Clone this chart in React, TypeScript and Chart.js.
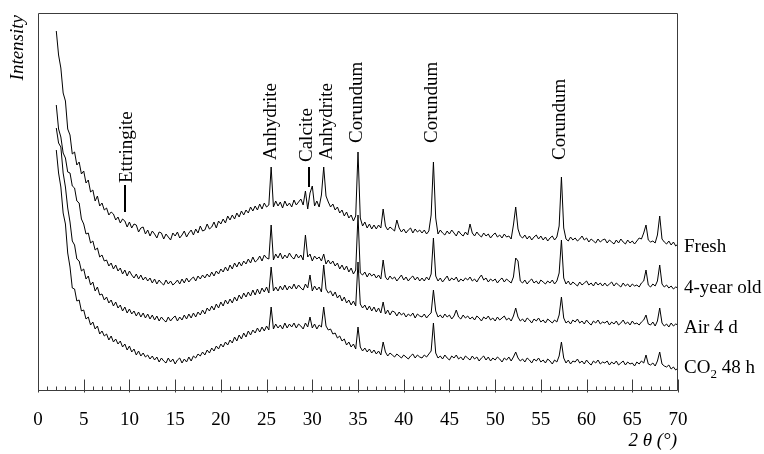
import React, { useEffect, useRef } from 'react';
import { Chart, registerables } from 'chart.js';

Chart.register(...registerables);

// 2θ sampling grid (degrees), 0.25° step from 2° to 70°
const twoTheta: number[] = Array.from({ length: 273 }, (_, i) => 2 + i * 0.25);

// Intensities (arbitrary units, curves already offset vertically as in the figure)
const fresh = [
  360, 336, 323, 298, 290, 262, 256, 237, 239, 226, 229, 217, 220, 208, 211, 199, 201, 190, 195, 185,
  188, 181, 183, 176, 179, 177, 171, 174, 168, 172, 170, 164, 169, 163, 167, 166, 159, 163, 164, 157,
  161, 155, 160, 157, 153, 159, 158, 152, 157, 154, 151, 158, 155, 159, 153, 156, 160, 154, 158, 161,
  156, 162, 158, 165, 160, 161, 167, 162, 164, 169, 163, 170, 167, 172, 168, 175, 171, 176, 172, 178,
  174, 180, 176, 181, 178, 184, 180, 185, 181, 187, 182, 188, 184, 186, 224, 184, 190, 185, 189, 183,
  190, 185, 188, 184, 191, 186, 189, 192, 186, 200, 182, 198, 205, 185, 190, 184, 196, 224, 195, 189,
  184, 187, 181, 184, 178, 181, 175, 179, 173, 176, 170, 175, 239, 173, 165, 169, 163, 167, 162, 166,
  162, 166, 163, 182, 165, 161, 164, 162, 160, 171, 163, 159, 162, 158, 161, 163, 158, 162, 159, 161,
  158, 161, 157, 160, 176, 229, 173, 157, 161, 158, 156, 160, 157, 161, 158, 155, 160, 157, 155, 159,
  156, 167, 158, 155, 159, 156, 154, 158, 155, 157, 153, 156, 158, 154, 156, 153, 157, 154, 155, 152,
  166, 184, 162, 155, 153, 156, 152, 155, 151, 154, 156, 152, 155, 151, 154, 150, 153, 155, 151, 154,
  165, 214, 163, 152, 150, 154, 151, 153, 150, 152, 155, 151, 153, 149, 152, 150, 148, 152, 149, 151,
  152, 148, 151, 149, 147, 151, 148, 152, 149, 147, 151, 148, 150, 147, 150, 153, 152, 158, 166, 151,
  149, 150, 148, 156, 175, 152, 149, 147, 150, 146, 149, 145, 147,
];

const fourYear = [
  286, 262, 254, 238, 233, 219, 218, 205, 203, 190, 188, 172, 167, 157, 158, 148, 150, 141, 143, 134,
  136, 130, 131, 125, 128, 122, 126, 120, 123, 117, 121, 115, 120, 116, 113, 117, 112, 116, 111, 114,
  110, 113, 108, 112, 107, 111, 108, 106, 111, 107, 110, 106, 108, 111, 107, 112, 108, 113, 109, 112,
  114, 110, 115, 112, 116, 113, 117, 114, 119, 115, 120, 117, 122, 119, 124, 120, 126, 122, 128, 124,
  129, 125, 130, 127, 132, 128, 134, 129, 131, 135, 130, 136, 133, 132, 166, 131, 137, 133, 138, 132,
  136, 133, 138, 134, 132, 137, 133, 136, 131, 156, 134, 137, 130, 135, 132, 134, 130, 137, 127, 131,
  127, 130, 125, 128, 122, 126, 121, 125, 119, 123, 117, 121, 176, 118, 116, 119, 114, 118, 115, 117,
  113, 116, 112, 131, 114, 111, 115, 112, 114, 110, 113, 116, 111, 114, 110, 113, 115, 111, 114, 110,
  113, 110, 114, 111, 117, 153, 115, 110, 113, 109, 112, 115, 110, 113, 111, 114, 109, 112, 110, 113,
  111, 114, 110, 112, 109, 113, 116, 111, 113, 109, 112, 110, 112, 108, 111, 113, 109, 112, 110, 108,
  114, 133, 130, 110, 108, 111, 107, 110, 112, 108, 110, 107, 111, 109, 107, 110, 108, 111, 107, 110,
  118, 151, 113, 107, 110, 106, 109, 107, 105, 109, 106, 108, 110, 106, 108, 105, 109, 106, 108, 105,
  108, 105, 107, 109, 105, 108, 106, 104, 108, 105, 107, 104, 107, 105, 106, 104, 108, 110, 121, 106,
  104, 107, 105, 110, 126, 107, 104, 106, 103, 105, 102, 104, 103,
];

const air4d = [
  263, 248, 244, 218, 204, 183, 169, 150, 146, 132, 130, 120, 122, 112, 115, 106, 109, 100, 104, 96,
  97, 91, 94, 88, 91, 85, 89, 83, 86, 80, 84, 78, 82, 77, 80, 75, 79, 74, 78, 73,
  77, 72, 76, 71, 75, 70, 74, 71, 69, 74, 70, 73, 75, 70, 74, 71, 76, 72, 77, 73,
  78, 74, 79, 76, 81, 77, 83, 80, 85, 81, 87, 83, 89, 85, 91, 87, 92, 88, 94, 90,
  96, 92, 98, 94, 99, 95, 101, 96, 102, 97, 103, 99, 104, 98, 124, 100, 104, 100, 105, 101,
  106, 101, 105, 102, 107, 102, 106, 103, 101, 107, 103, 116, 100, 105, 101, 104, 99, 126, 102, 98,
  100, 95, 99, 93, 96, 90, 94, 88, 91, 86, 90, 85, 129, 87, 83, 86, 81, 85, 80, 84,
  79, 83, 78, 89, 77, 81, 76, 80, 79, 75, 79, 76, 78, 74, 77, 75, 78, 73, 77, 75,
  74, 77, 73, 76, 78, 101, 80, 74, 76, 73, 77, 74, 76, 72, 75, 81, 74, 72, 76, 73,
  75, 72, 74, 71, 75, 73, 70, 74, 72, 75, 71, 73, 70, 74, 71, 73, 75, 71, 73, 70,
  75, 83, 74, 70, 72, 69, 73, 71, 68, 72, 70, 73, 69, 71, 68, 72, 70, 68, 71, 69,
  76, 94, 73, 68, 70, 67, 71, 69, 72, 68, 70, 67, 71, 68, 66, 70, 68, 71, 67, 69,
  68, 70, 66, 69, 67, 70, 66, 68, 71, 67, 69, 66, 70, 67, 68, 66, 69, 71, 76, 67,
  66, 69, 65, 70, 83, 68, 65, 67, 64, 68, 65, 67, 66,
];

const co2 = [
  241, 218, 204, 178, 167, 138, 124, 103, 102, 90, 91, 80, 81, 72, 74, 66, 69, 62, 65, 57,
  60, 55, 57, 51, 55, 49, 52, 47, 50, 44, 47, 41, 45, 39, 42, 36, 40, 35, 38, 34,
  36, 32, 35, 31, 34, 29, 33, 30, 28, 33, 29, 32, 27, 31, 33, 28, 32, 29, 34, 30,
  35, 33, 37, 35, 39, 36, 41, 38, 43, 40, 45, 42, 47, 44, 49, 46, 51, 48, 54, 50,
  56, 52, 58, 54, 60, 56, 61, 58, 63, 59, 64, 60, 65, 61, 84, 62, 67, 63, 66, 62,
  68, 63, 67, 64, 68, 63, 67, 65, 62, 68, 64, 74, 63, 67, 62, 66, 64, 84, 65, 61,
  62, 57, 58, 53, 55, 50, 52, 46, 49, 44, 47, 42, 64, 44, 40, 43, 39, 42, 38, 41,
  37, 40, 36, 49, 39, 35, 38, 36, 34, 37, 35, 33, 36, 34, 32, 35, 37, 33, 36, 34,
  33, 36, 34, 37, 40, 68, 38, 33, 35, 32, 36, 33, 31, 35, 33, 36, 32, 34, 31, 35,
  33, 31, 35, 32, 34, 30, 33, 35, 31, 34, 30, 33, 31, 34, 32, 29, 33, 31, 34, 30,
  34, 39, 33, 30, 32, 29, 33, 31, 28, 32, 30, 33, 29, 31, 28, 32, 30, 27, 31, 29,
  35, 49, 33, 28, 31, 27, 30, 29, 32, 28, 30, 27, 31, 28, 26, 30, 28, 31, 27, 29,
  28, 30, 26, 29, 27, 30, 26, 28, 30, 26, 29, 27, 28, 25, 29, 27, 30, 28, 36, 27,
  26, 28, 25, 30, 39, 27, 25, 24, 26, 22, 24, 21, 23,
];

// Series labels at right: [main text, subscript, rest], and their level (intensity units)
const seriesLabelMain = ['Fresh', '4-year old', 'Air 4 d', 'CO'];
const seriesLabelSub = ['', '', '', '2'];
const seriesLabelRest = ['', '', '', ' 48 h'];
const seriesLabelLevel = [139, 98, 58, 18];

// Phase annotations (rotated): name, 2θ, intensity where the text starts
const phaseNames = ['Ettringite', 'Anhydrite', 'Calcite', 'Anhydrite', 'Corundum', 'Corundum', 'Corundum'];
const phaseAt = [9.75, 25.45, 29.4, 31.6, 34.85, 43.15, 57.05];
const phaseBase = [208, 231, 229, 231, 248, 248, 231];

// Short marker bars under some labels
const markerAt = [9.55, 29.65];
const markerFrom = [179, 204];
const markerTo = [206, 224];

const FONT = "'Liberation Serif', 'Times New Roman', serif";

const decor = {
  id: 'decor',
  afterDatasetsDraw(chart: any) {
    const { ctx, chartArea: a, scales } = chart;
    const x = scales.x;
    const y = scales.y;
    ctx.save();
    // frame
    ctx.strokeStyle = '#3c3c3c';
    ctx.lineWidth = 1;
    const L = Math.round(a.left) + 0.5;
    const T = Math.round(a.top) + 0.5;
    const R = Math.round(a.right) - 0.5;
    const B = Math.round(a.bottom) - 0.5;
    ctx.beginPath();
    ctx.moveTo(L, T);
    ctx.lineTo(R, T);
    ctx.lineTo(R, B);
    ctx.lineTo(L, B);
    ctx.closePath();
    ctx.stroke();
    // tick marks (inward)
    for (let v = 0; v <= 70; v++) {
      const px = Math.round(x.getPixelForValue(v)) + 0.5;
      const major = v % 5 === 0;
      ctx.beginPath();
      ctx.moveTo(px, B + (major ? 2 : 0));
      ctx.lineTo(px, B - (major ? 11 : 4));
      ctx.stroke();
    }
    // phase labels
    ctx.fillStyle = '#000';
    ctx.font = `19px ${FONT}`;
    phaseNames.forEach((t, i) => {
      const px = x.getPixelForValue(phaseAt[i]);
      const py = y.getPixelForValue(phaseBase[i]);
      ctx.save();
      ctx.translate(px, py);
      ctx.rotate(-Math.PI / 2);
      ctx.textAlign = 'left';
      ctx.textBaseline = 'middle';
      ctx.fillText(t, 0, 0);
      ctx.restore();
    });
    // marker bars
    ctx.strokeStyle = '#000';
    ctx.lineWidth = 2;
    markerAt.forEach((m, i) => {
      const px = Math.round(x.getPixelForValue(m));
      ctx.beginPath();
      ctx.moveTo(px, y.getPixelForValue(markerFrom[i]));
      ctx.lineTo(px, y.getPixelForValue(markerTo[i]));
      ctx.stroke();
    });
    // series labels
    ctx.textAlign = 'left';
    ctx.textBaseline = 'alphabetic';
    seriesLabelMain.forEach((t, i) => {
      let px = a.right + 6;
      const py = y.getPixelForValue(seriesLabelLevel[i]);
      ctx.font = `19px ${FONT}`;
      ctx.fillText(t, px, py);
      px += ctx.measureText(t).width;
      if (seriesLabelSub[i]) {
        ctx.font = `13px ${FONT}`;
        ctx.fillText(seriesLabelSub[i], px, py + 5);
        px += ctx.measureText(seriesLabelSub[i]).width;
      }
      if (seriesLabelRest[i]) {
        ctx.font = `19px ${FONT}`;
        ctx.fillText(seriesLabelRest[i], px, py);
      }
    });
    // axis titles
    ctx.font = `italic 19px ${FONT}`;
    ctx.textAlign = 'right';
    ctx.textBaseline = 'alphabetic';
    ctx.fillText('2 \u03B8 (\u00B0)', a.right - 1, a.bottom + 55);
    ctx.save();
    ctx.translate(a.left - 20, a.top + 2);
    ctx.rotate(-Math.PI / 2);
    ctx.textAlign = 'right';
    ctx.textBaseline = 'middle';
    ctx.fillText('Intensity', 0, 0);
    ctx.restore();
    ctx.restore();
  },
};

export default function App() {
  const ref = useRef<HTMLCanvasElement | null>(null);
  useEffect(() => {
    if (!ref.current) return;
    const mk = (arr: number[]) => twoTheta.slice(0, arr.length).map((t, i) => ({ x: t, y: arr[i] }));
    const chart = new Chart(ref.current, {
      type: 'line',
      data: {
        datasets: [fresh, fourYear, air4d, co2].map((arr) => ({
          data: mk(arr),
          borderColor: '#000',
          borderWidth: 1,
          pointRadius: 0,
          tension: 0,
          fill: false,
        })),
      },
      options: {
        animation: false,
        responsive: false,
        maintainAspectRatio: false,
        devicePixelRatio: 1,
        layout: { padding: { left: 0, right: 86, top: 13, bottom: 0 } },
        plugins: { legend: { display: false }, tooltip: { enabled: false } },
        scales: {
          x: {
            type: 'linear',
            min: 0,
            max: 70,
            ticks: {
              stepSize: 5,
              autoSkip: false,
              maxRotation: 0,
              color: '#000',
              padding: 18,
              font: { family: FONT, size: 19 },
            },
            grid: { display: false, drawTicks: false },
            border: { display: false },
            afterFit: (s: any) => {
              s.height = 63;
            },
          },
          y: {
            min: 0,
            max: 378,
            ticks: { display: false },
            grid: { display: false, drawTicks: false },
            border: { display: false },
            afterFit: (s: any) => {
              s.width = 38;
            },
          },
        },
      } as any,
      plugins: [decor],
    });
    return () => chart.destroy();
  }, []);
  return (
    <div style={{ position: 'fixed', left: 0, top: 0, width: 764, height: 454, background: '#fff' }}>
      <canvas ref={ref} width={764} height={454} style={{ width: 764, height: 454, display: 'block' }} />
    </div>
  );
}
